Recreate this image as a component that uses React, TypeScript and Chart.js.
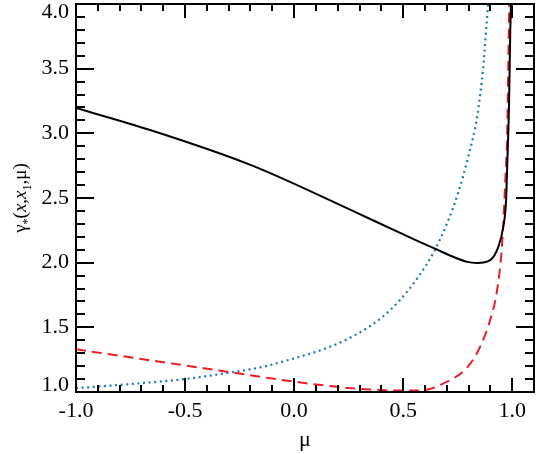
import React, { useEffect, useRef } from "react";
import { Chart, registerables } from "chart.js";

Chart.register(...registerables);

// Solid black curve
const muBlack = [-1, -0.66, -0.2, 0.257, 0.486, 0.638, 0.794, 0.839, 0.899, 0.936, 0.959, 0.972, 0.977, 0.986, 0.991, 0.994, 0.997];
const gammaBlack = [3.196, 3.026, 2.756, 2.41, 2.23, 2.114, 2.006, 1.998, 2.02, 2.12, 2.276, 2.485, 2.74, 3.26, 3.78, 4.0, 4.6];

// Dotted blue curve
const muBlue = [-1, -0.69, -0.5, -0.307, -0.156, 0, 0.15, 0.28, 0.39, 0.486, 0.569, 0.638, 0.702, 0.752, 0.798, 0.839, 0.867, 0.89, 0.9];
const gammaBlue = [1.029, 1.07, 1.1, 1.147, 1.19, 1.26, 1.34, 1.44, 1.56, 1.712, 1.889, 2.075, 2.307, 2.539, 2.817, 3.127, 3.51, 4.01, 4.2];

// Dashed red curve
const muRed = [-1, -0.615, -0.307, 0, 0.27, 0.42, 0.52, 0.6, 0.683, 0.794, 0.853, 0.899, 0.931, 0.954, 0.968, 0.977, 0.982, 0.986, 0.99];
const gammaRed = [1.33, 1.234, 1.157, 1.08, 1.028, 1.014, 1.011, 1.016, 1.065, 1.19, 1.35, 1.557, 1.79, 2.15, 2.62, 3.0, 3.51, 3.98, 4.6];

// Axis ticks
const xMajorTicks = [-1.0, -0.5, 0.0, 0.5, 1.0];
const xMajorLabels = ["-1.0", "-0.5", "0.0", "0.5", "1.0"];
const xMinorTicks = [-0.9, -0.8, -0.7, -0.6, -0.4, -0.3, -0.2, -0.1, 0.1, 0.2, 0.3, 0.4, 0.6, 0.7, 0.8, 0.9, 1.1];
const yMajorTicks = [1.0, 1.5, 2.0, 2.5, 3.0, 3.5, 4.0];
const yMajorLabels = ["1.0", "1.5", "2.0", "2.5", "3.0", "3.5", "4.0"];
const yMinorTicks = [1.1, 1.2, 1.3, 1.4, 1.6, 1.7, 1.8, 1.9, 2.1, 2.2, 2.3, 2.4, 2.6, 2.7, 2.8, 2.9, 3.1, 3.2, 3.3, 3.4, 3.6, 3.7, 3.8, 3.9];

const X_MIN = -1.0;
const X_MAX = 1.1;
const Y_MIN = 1.0;
const Y_MAX = 4.0;

const FONT = "'Liberation Serif', 'Times New Roman', serif";

const toPoints = (xs: number[], ys: number[]) => xs.map((x, i) => ({ x, y: ys[i] }));

const framePlugin = {
  id: "idlFrame",
  afterDatasetsDraw(chart: any) {
    const ctx = chart.ctx as CanvasRenderingContext2D;
    const { left, right, top, bottom } = chart.chartArea;
    const xs = chart.scales.x;
    const ys = chart.scales.y;
    ctx.save();
    ctx.strokeStyle = "#000";
    ctx.lineWidth = 2;
    ctx.strokeRect(left, top, right - left, bottom - top);

    const xMajLen = 14, xMinLen = 7, yMajLen = 18, yMinLen = 9;
    ctx.beginPath();
    const xTick = (v: number, len: number) => {
      const px = Math.round(xs.getPixelForValue(v));
      ctx.moveTo(px, bottom);
      ctx.lineTo(px, bottom - len);
      ctx.moveTo(px, top);
      ctx.lineTo(px, top + len);
    };
    const yTick = (v: number, len: number) => {
      const py = Math.round(ys.getPixelForValue(v));
      ctx.moveTo(left, py);
      ctx.lineTo(left + len, py);
      ctx.moveTo(right, py);
      ctx.lineTo(right - len, py);
    };
    xMajorTicks.forEach((v) => xTick(v, xMajLen));
    xMinorTicks.forEach((v) => xTick(v, xMinLen));
    yMajorTicks.forEach((v) => yTick(v, yMajLen));
    yMinorTicks.forEach((v) => yTick(v, yMinLen));
    ctx.stroke();

    // tick labels
    ctx.fillStyle = "#000";
    ctx.font = `22px ${FONT}`;
    ctx.textAlign = "center";
    ctx.textBaseline = "middle";
    xMajorTicks.forEach((v, i) => {
      ctx.fillText(xMajorLabels[i], xs.getPixelForValue(v), bottom + 19);
    });
    ctx.textAlign = "right";
    yMajorTicks.forEach((v, i) => {
      let py = ys.getPixelForValue(v);
      py = Math.min(Math.max(py, top + 8), bottom - 7);
      ctx.fillText(yMajorLabels[i], left - 7, py);
    });

    // x title
    ctx.textAlign = "center";
    ctx.textBaseline = "alphabetic";
    ctx.fillText("\u03bc", (left + right) / 2, bottom + 54);

    // y title
    const pieces = [
      { t: "\u03b3", f: `19px ${FONT}`, dy: 0 },
      { t: "*", f: `12px ${FONT}`, dy: 5 },
      { t: "(", f: `19px ${FONT}`, dy: 0 },
      { t: "x", f: `italic 19px ${FONT}`, dy: 0 },
      { t: ",", f: `19px ${FONT}`, dy: 0 },
      { t: "x", f: `italic 19px ${FONT}`, dy: 0 },
      { t: "1", f: `12px ${FONT}`, dy: 5 },
      { t: ",\u03bc)", f: `19px ${FONT}`, dy: 0 },
    ];
    let total = 0;
    const widths = pieces.map((p) => {
      ctx.font = p.f;
      const w = ctx.measureText(p.t).width;
      total += w;
      return w;
    });
    ctx.translate(26, (top + bottom) / 2);
    ctx.rotate(-Math.PI / 2);
    ctx.textAlign = "left";
    let cx = -total / 2;
    pieces.forEach((p, i) => {
      ctx.font = p.f;
      ctx.fillText(p.t, cx, p.dy);
      cx += widths[i];
    });
    ctx.restore();
  },
};

export default function App() {
  const canvasRef = useRef<HTMLCanvasElement | null>(null);

  useEffect(() => {
    if (!canvasRef.current) return;
    const chart = new Chart(canvasRef.current, {
      type: "line",
      data: {
        datasets: [
          {
            label: "black",
            data: toPoints(muBlack, gammaBlack),
            borderColor: "#000000",
            borderWidth: 2,
            pointRadius: 0,
            cubicInterpolationMode: "monotone",
            fill: false,
          },
          {
            label: "red",
            data: toPoints(muRed, gammaRed),
            borderColor: "rgb(236, 28, 36)",
            borderWidth: 2,
            borderDash: [10, 6],
            pointRadius: 0,
            cubicInterpolationMode: "monotone",
            fill: false,
          },
          {
            label: "blue",
            data: toPoints(muBlue, gammaBlue),
            borderColor: "rgb(28, 118, 196)",
            borderWidth: 2.2,
            borderDash: [2, 3.6],
            pointRadius: 0,
            cubicInterpolationMode: "monotone",
            fill: false,
          },
        ],
      },
      options: {
        responsive: false,
        animation: false,
        layout: { padding: { left: 76, right: 11, top: 4, bottom: 62 } },
        plugins: { legend: { display: false }, tooltip: { enabled: false } },
        scales: {
          x: { type: "linear", min: X_MIN, max: X_MAX, display: false },
          y: { type: "linear", min: Y_MIN, max: Y_MAX, display: false },
        },
      },
      plugins: [framePlugin],
    });
    return () => chart.destroy();
  }, []);

  return (
    <div style={{ position: "fixed", left: 0, top: 0, width: 545, height: 454, background: "#fff" }}>
      <canvas ref={canvasRef} width={545} height={454} style={{ width: 545, height: 454 }} />
    </div>
  );
}
